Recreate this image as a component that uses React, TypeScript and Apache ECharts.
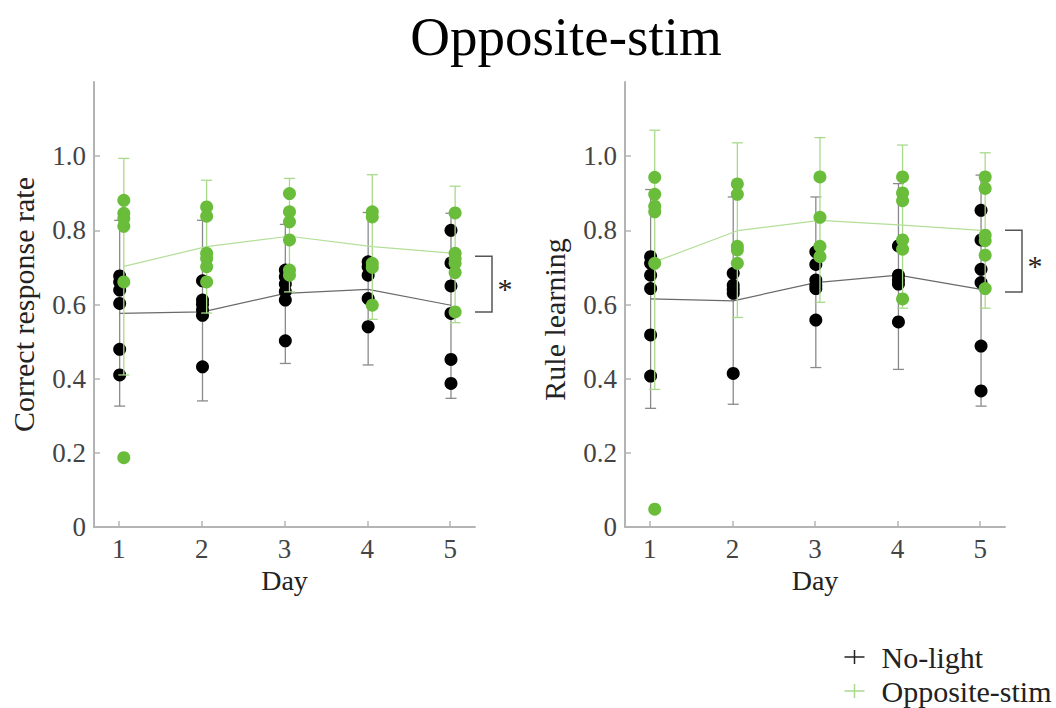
import React, { useEffect, useRef } from "react";
import * as echarts from "echarts";

// ---------- data ----------
const days = [1, 2, 3, 4, 5];
const yTickValues = [0, 0.2, 0.4, 0.6, 0.8, 1.0];
const titleText = "Opposite-stim";
const groupNames = ["No-light", "Opposite-stim"];
const panelYNames = ["Correct response rate", "Rule learning"];
const xName = "Day";

// Panel 1: Correct response rate (individual animals per day)
const correctNoLight: number[][] = [
  [0.677, 0.661, 0.639, 0.603, 0.479, 0.41],
  [0.664, 0.612, 0.601, 0.585, 0.571, 0.432],
  [0.693, 0.675, 0.655, 0.635, 0.612, 0.502],
  [0.715, 0.702, 0.679, 0.616, 0.54],
  [0.8, 0.712, 0.65, 0.576, 0.452, 0.387],
];
const correctOpp: number[][] = [
  [0.881, 0.846, 0.832, 0.811, 0.661, 0.187],
  [0.863, 0.838, 0.738, 0.724, 0.702, 0.661],
  [0.899, 0.85, 0.823, 0.774, 0.693, 0.679],
  [0.85, 0.836, 0.711, 0.7, 0.598],
  [0.847, 0.738, 0.724, 0.711, 0.686, 0.58],
];
const correctNoLightMean = [0.576, 0.58, 0.63, 0.641, 0.598];
const correctNoLightLow = [0.326, 0.34, 0.441, 0.437, 0.347];
const correctNoLightHigh = [0.827, 0.827, 0.816, 0.848, 0.846];
const correctOppMean = [0.703, 0.756, 0.784, 0.756, 0.738];
const correctOppLow = [0.41, 0.577, 0.634, 0.56, 0.551];
const correctOppHigh = [0.994, 0.935, 0.94, 0.95, 0.919];
const correctSig = [0.73, 0.58]; // bracket top, bottom

// Panel 2: Rule learning
const ruleNoLight: number[][] = [
  [0.729, 0.711, 0.679, 0.643, 0.518, 0.407],
  [0.684, 0.652, 0.641, 0.63, 0.414],
  [0.742, 0.708, 0.666, 0.652, 0.643, 0.558],
  [0.758, 0.679, 0.666, 0.655, 0.553],
  [0.854, 0.774, 0.695, 0.659, 0.488, 0.367],
];
const ruleOpp: number[][] = [
  [0.943, 0.897, 0.865, 0.85, 0.711, 0.048],
  [0.925, 0.897, 0.757, 0.747, 0.711],
  [0.944, 0.835, 0.757, 0.729],
  [0.944, 0.901, 0.88, 0.774, 0.749, 0.615],
  [0.944, 0.913, 0.787, 0.772, 0.733, 0.643],
];
const ruleNoLightMean = [0.615, 0.61, 0.659, 0.679, 0.641];
const ruleNoLightLow = [0.32, 0.331, 0.43, 0.425, 0.326];
const ruleNoLightHigh = [0.91, 0.89, 0.89, 0.926, 0.949];
const ruleOppMean = [0.715, 0.799, 0.827, 0.814, 0.799];
const ruleOppLow = [0.371, 0.565, 0.606, 0.59, 0.59];
const ruleOppHigh = [1.07, 1.036, 1.05, 1.03, 1.009];
const ruleSig = [0.8, 0.634];

// ---------- styling ----------
const FONT = "'Liberation Serif', 'Times New Roman', serif";
const BLACK_DOT = "#000000";
const GREEN_DOT = "#6abd3a";
const BLACK_LINE = "#6a6a6a";
const GREEN_LINE = "#b3df98";
const BLACK_ERR = "#8a8a8a";
const GREEN_ERR = "#a9da8c";
const AXIS_COLOR = "#b4b4b4";
const OFF_BLACK = 0.01;
const OFF_GREEN = 0.06;

function errRender(color: string) {
  return (params: any, api: any) => {
    const x = api.value(0);
    const lo = api.value(1);
    const hi = api.value(2);
    const top = api.coord([x, hi]);
    const bot = api.coord([x, lo]);
    const w = 5.5;
    const st = { stroke: color, lineWidth: 1.3 };
    return {
      type: "group",
      children: [
        { type: "line", shape: { x1: top[0], y1: top[1], x2: bot[0], y2: bot[1] }, style: st },
        { type: "line", shape: { x1: top[0] - w, y1: top[1], x2: top[0] + w, y2: top[1] }, style: st },
        { type: "line", shape: { x1: bot[0] - w, y1: bot[1], x2: bot[0] + w, y2: bot[1] }, style: st },
      ],
    };
  };
}

function sigRender(params: any, api: any) {
  const x = api.value(0);
  const top = api.coord([x, api.value(1)]);
  const bot = api.coord([x, api.value(2)]);
  const w = 17;
  return {
    type: "group",
    children: [
      {
        type: "polyline",
        shape: {
          points: [
            [top[0], top[1]],
            [top[0] + w, top[1]],
            [bot[0] + w, bot[1]],
            [bot[0], bot[1]],
          ],
        },
        style: { stroke: "#555", lineWidth: 1.5, fill: "none" },
      },
      {
        type: "text",
        x: top[0] + w + 13,
        y: (top[1] + bot[1]) / 2 + 4,
        style: {
          text: "*",
          font: `30px ${FONT}`,
          fill: "#222",
          align: "center",
          verticalAlign: "middle",
        },
      },
    ],
  };
}

function buildPanel(
  idx: number,
  noLight: number[][],
  opp: number[][],
  nlMean: number[],
  nlLow: number[],
  nlHigh: number[],
  opMean: number[],
  opLow: number[],
  opHigh: number[],
  sig: number[]
) {
  const nlDots: number[][] = [];
  noLight.forEach((vals, i) => vals.forEach((v) => nlDots.push([days[i] + OFF_BLACK, v])));
  const opDots: number[][] = [];
  opp.forEach((vals, i) => vals.forEach((v) => opDots.push([days[i] + OFF_GREEN, v])));
  const common = { xAxisIndex: idx, yAxisIndex: idx };
  return [
    {
      type: "custom",
      ...common,
      renderItem: errRender(BLACK_ERR),
      encode: { x: 0, y: [1, 2] },
      data: days.map((d, i) => [d + OFF_BLACK, nlLow[i], nlHigh[i]]),
      z: 1,
    },
    {
      type: "line",
      ...common,
      symbol: "none",
      lineStyle: { color: BLACK_LINE, width: 1.2 },
      data: days.map((d, i) => [d + OFF_BLACK, nlMean[i]]),
      z: 2,
    },
    {
      type: "scatter",
      ...common,
      symbolSize: 13,
      itemStyle: { color: BLACK_DOT, opacity: 1 },
      data: nlDots,
      z: 3,
    },
    {
      type: "custom",
      ...common,
      renderItem: errRender(GREEN_ERR),
      encode: { x: 0, y: [1, 2] },
      data: days.map((d, i) => [d + OFF_GREEN, opLow[i], opHigh[i]]),
      z: 4,
    },
    {
      type: "line",
      ...common,
      symbol: "none",
      lineStyle: { color: GREEN_LINE, width: 1.2 },
      data: days.map((d, i) => [d + OFF_GREEN, opMean[i]]),
      z: 5,
    },
    {
      type: "scatter",
      ...common,
      symbolSize: 13,
      itemStyle: { color: GREEN_DOT, opacity: 1 },
      data: opDots,
      z: 6,
    },
    {
      type: "custom",
      ...common,
      renderItem: sigRender,
      clip: false,
      encode: { x: 0, y: [1, 2] },
      data: [[5.3, sig[0], sig[1]]],
      z: 7,
    },
  ];
}

function xAxisCfg(idx: number) {
  return {
    type: "value",
    gridIndex: idx,
    min: 0.7,
    max: 5.3,
    name: xName,
    nameLocation: "middle",
    nameGap: 36,
    nameTextStyle: { fontFamily: FONT, fontSize: 28, color: "#222" },
    axisLine: { show: true, lineStyle: { color: AXIS_COLOR, width: 2 } },
    axisTick: { show: true, inside: true, length: 6, customValues: days, lineStyle: { color: AXIS_COLOR, width: 1.5 } },
    axisLabel: { customValues: days, fontFamily: FONT, fontSize: 27, color: "#444", margin: 8, formatter: (v: number) => String(v) },
    splitLine: { show: false },
  };
}

function yAxisCfg(idx: number, name: string, size: number, pad: number[]) {
  return {
    type: "value",
    gridIndex: idx,
    min: 0,
    max: 1.2,
    name,
    nameLocation: "middle",
    nameGap: 56,
    nameTextStyle: { fontFamily: FONT, fontSize: size, color: "#222", padding: pad },
    axisLine: { show: true, lineStyle: { color: AXIS_COLOR, width: 2 } },
    axisTick: { show: true, inside: true, length: 6, customValues: yTickValues, lineStyle: { color: AXIS_COLOR, width: 1.5 } },
    axisLabel: {
      customValues: yTickValues,
      fontFamily: FONT,
      fontSize: 27,
      color: "#444",
      margin: 8,
      formatter: (v: number) => (v === 0 ? "0" : v.toFixed(1)),
    },
    splitLine: { show: false },
  };
}

const legendItems = [
  { name: groupNames[0], color: "#222" },
  { name: groupNames[1], color: GREEN_ERR },
];

const option: any = {
  animation: false,
  backgroundColor: "#ffffff",
  title: {
    text: titleText,
    left: 561,
    top: 4,
    textAlign: "center",
    textStyle: { fontFamily: FONT, fontSize: 55, fontWeight: "normal", color: "#000" },
  },
  grid: [
    { left: 94, top: 82, width: 381, height: 445 },
    { left: 625, top: 82, width: 380, height: 445 },
  ],
  xAxis: [xAxisCfg(0), xAxisCfg(1)],
  yAxis: [yAxisCfg(0, panelYNames[0], 30, [0, 0, 0, 0]), yAxisCfg(1, panelYNames[1], 30, [0, 30, 0, 0])],
  series: [
    ...buildPanel(0, correctNoLight, correctOpp, correctNoLightMean, correctNoLightLow, correctNoLightHigh, correctOppMean, correctOppLow, correctOppHigh, correctSig),
    ...buildPanel(1, ruleNoLight, ruleOpp, ruleNoLightMean, ruleNoLightLow, ruleNoLightHigh, ruleOppMean, ruleOppLow, ruleOppHigh, ruleSig),
  ],
  graphic: legendItems.map((it, i) => ({
    type: "group",
    left: 842,
    top: 642 + i * 34,
    children: [
      { type: "line", shape: { x1: 0, y1: 15, x2: 20, y2: 15 }, style: { stroke: it.color, lineWidth: 1.5 } },
      { type: "line", shape: { x1: 10, y1: 8, x2: 10, y2: 22 }, style: { stroke: it.color, lineWidth: 1.5 } },
      {
        type: "text",
        x: 37,
        y: 15,
        style: { text: it.name, font: `30px ${FONT}`, fill: "#222", verticalAlign: "middle" },
      },
    ],
  })),
};

export default function App() {
  const ref = useRef<HTMLDivElement>(null);
  useEffect(() => {
    document.body.style.margin = "0";
    const chart = echarts.init(ref.current as HTMLDivElement, null, { renderer: "svg" });
    chart.setOption(option);
    return () => chart.dispose();
  }, []);
  return <div ref={ref} style={{ width: 1056, height: 708 }} />;
}
